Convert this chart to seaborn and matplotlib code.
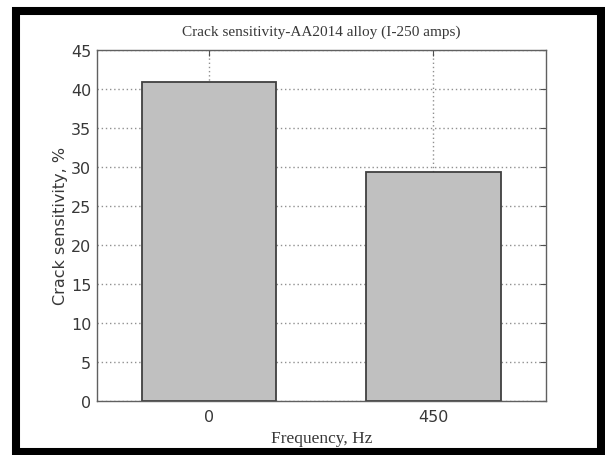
import numpy as np
import pandas as pd
import seaborn as sns
import matplotlib.pyplot as plt
from matplotlib.patches import Rectangle

# data
freq = ['0', '450']
crack = [40.8, 29.3]
yticks = [0, 5, 10, 15, 20, 25, 30, 35, 40, 45]

df = pd.DataFrame({'Frequency': freq, 'Crack': crack})

sns.set_style('white')
plt.rcParams['font.family'] = ['DejaVu Sans']

fig = plt.figure(figsize=(6.05, 4.56), dpi=100)
ax = fig.add_axes([0.160, 0.119, 0.742, 0.770])
ax.set_axisbelow(True)

sns.barplot(data=df, x='Frequency', y='Crack', order=freq, color='#c0c0c0',
            saturation=1, width=0.6, edgecolor='#404040', linewidth=1.3, ax=ax)

ax.set_xlim(-0.5, 1.5)
ax.set_ylim(0, 45)
ax.set_yticks(yticks)
ax.grid(True, linestyle=(0, (1, 2)), color='#909090', linewidth=1.0)
ax.tick_params(direction='in', length=4, width=0.8, color='#505050',
               top=True, right=True, labelsize=11.5, labelcolor='#383838', pad=4)
ax.tick_params(axis='x', pad=6)
for s in ax.spines.values():
    s.set_color('#606060')
    s.set_linewidth(1.0)

serif = ['Liberation Serif', 'DejaVu Serif']
ax.set_title('Crack sensitivity-AA2014 alloy (I-250 amps)', fontsize=11,
             family=serif, color='#383838', pad=11)
ax.set_xlabel('Frequency, Hz', fontsize=12.5, family=serif, color='#383838', labelpad=4)
ax.set_ylabel('Crack sensitivity, %', fontsize=11.5, color='#383838', labelpad=2)

# black frame around the whole picture
fig.patches.append(Rectangle((16 / 605, 3.5 / 456), 585 / 605, 440.5 / 456,
                             fill=False, edgecolor='black', linewidth=5.8,
                             transform=fig.transFigure, figure=fig))

fig.savefig('out.png', dpi=100)
